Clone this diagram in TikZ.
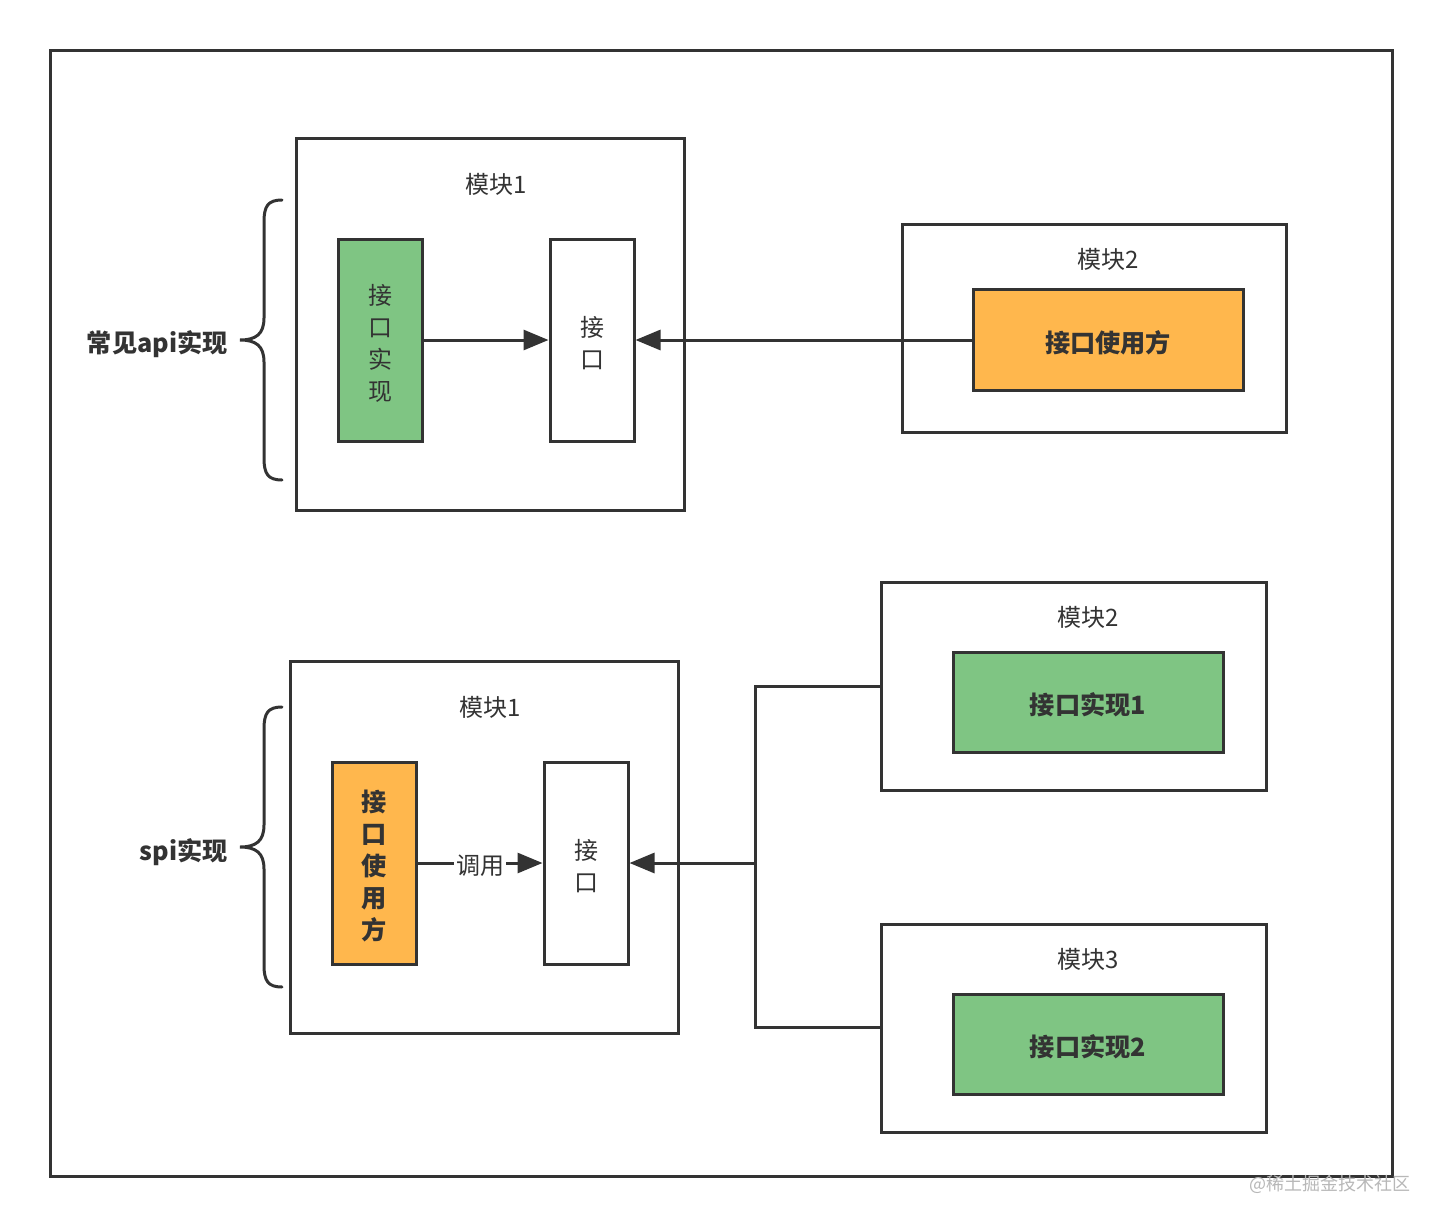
\documentclass[tikz,border=0pt]{standalone}
\usepackage{fontspec}
\setmainfont{Noto Sans CJK SC}
\usetikzlibrary{arrows.meta}
\definecolor{ln}{HTML}{333333}
\definecolor{gfill}{HTML}{7FC583}
\definecolor{ofill}{HTML}{FFB74D}
\tikzset{
  frame/.style={draw=ln,line width=1.5pt,fill=white},
  box/.style={draw=ln,line width=1.5pt,inner sep=0pt,align=center,text=ln},
  lbl/.style={text=ln,font=\fontsize{12}{16}\selectfont,inner sep=0pt},
  blbl/.style={text=ln,font=\fontsize{12.6}{16}\selectfont\bfseries,inner sep=0pt},
  conn/.style={draw=ln,line width=1.5pt},
  arr/.style={conn,-{Triangle[length=12.5pt,width=10pt]}},
  brace/.style={draw=ln,line width=1.5pt,line cap=round}
}
\begin{document}
\begin{tikzpicture}[x=0.5pt,y=-0.5pt]
\useasboundingbox (0,0) rectangle (1442,1226);
\fill[white] (0,0) rectangle (1442,1226);
\draw[frame] (50,50) rectangle (1392,1176);

% ---------- top: api ----------
\draw[frame] (296,138) rectangle (684,510);
\node[lbl] (t1) at (496,184) {模块1};
\node[box,fill=gfill,minimum width=42pt,minimum height=101pt,font=\fontsize{12}{16}\selectfont] (gimpl) at (380,340) {};
\node[lbl,align=center] (gimplt) at (380,343) {接\\口\\实\\现};
\node[box,fill=white,minimum width=42pt,minimum height=101pt] (if1) at (592,340) {};
\node[lbl,align=center] (if1t) at (592,343) {接\\口};
\draw[frame] (902,224) rectangle (1286,432);
\node[lbl] (t2) at (1108,259) {模块2};
\node[box,fill=ofill,minimum width=135pt,minimum height=50.5pt] (user1) at (1108,340) {};
\node[blbl] (user1t) at (1108,343) {接口使用方};
\draw[arr] (gimpl.east) -- (if1.west);
\draw[arr] (user1.west) -- (if1.east);
\draw[brace] (282,200) .. controls (268,200) and (264,206) .. (264,222) -- (264,318)
  .. controls (264,334) and (256,340) .. (240,340)
  .. controls (256,340) and (264,346) .. (264,362) -- (264,458)
  .. controls (264,474) and (268,480) .. (282,480);
\node[blbl,anchor=east] (l1) at (228,344) {常见api实现};

% ---------- bottom: spi ----------
\draw[frame] (290,661) rectangle (678,1033);
\node[lbl] (t3) at (490,707) {模块1};
\node[box,fill=ofill,minimum width=42pt,minimum height=101pt] (user2) at (374,863) {};
\node[blbl,align=center] (user2t) at (374,866) {接\\口\\使\\用\\方};
\node[box,fill=white,minimum width=42pt,minimum height=101pt] (if2) at (586,863) {};
\node[lbl,align=center] (if2t) at (586,866) {接\\口};
\draw[arr] (user2.east) -- node[lbl,fill=white,inner xsep=1pt,yshift=-1.5pt] (call) {调用} (if2.west);

\draw[frame] (881,582) rectangle (1266,790);
\node[lbl] (t4) at (1088,617) {模块2};
\node[box,fill=gfill,minimum width=135pt,minimum height=50pt] (impl1) at (1088,702) {};
\node[blbl] (impl1t) at (1088,705) {接口实现1};
\coordinate (m2w) at (881,686);

\draw[frame] (881,924) rectangle (1266,1132);
\node[lbl] (t5) at (1088,959) {模块3};
\node[box,fill=gfill,minimum width=135pt,minimum height=50pt] (impl2) at (1088,1044) {};
\node[blbl] (impl2t) at (1088,1047) {接口实现2};
\coordinate (m3w) at (881,1027);

\coordinate (junc) at (755,863);
\draw[conn] (m2w) -- (755,686) -- (755,1027) -- (m3w);
\draw[arr] (junc) -- (if2.east);

\draw[brace] (282,707) .. controls (268,707) and (264,713) .. (264,729) -- (264,825)
  .. controls (264,841) and (256,847) .. (240,847)
  .. controls (256,847) and (264,853) .. (264,869) -- (264,965)
  .. controls (264,981) and (268,987) .. (282,987);
\node[blbl,anchor=east] (l2) at (228,852) {spi实现};

% watermark
\node[text=black!28,font=\fontsize{9}{11}\selectfont,inner sep=0pt] (wm) at (1330,1184) {@稀土掘金技术社区};
\end{tikzpicture}
\end{document}
